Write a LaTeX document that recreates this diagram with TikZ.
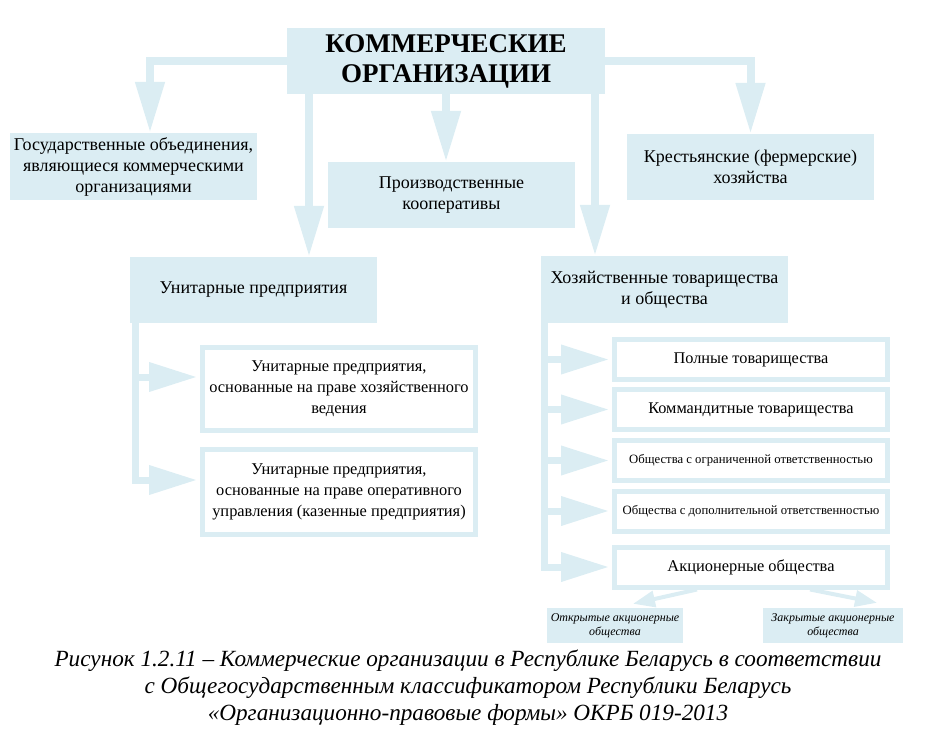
\documentclass[tikz,border=0pt]{standalone}
\usepackage{fontspec}
\setmainfont{Liberation Serif}
\usetikzlibrary{arrows.meta,positioning}
\definecolor{pale}{RGB}{219,237,243}
\tikzset{
  fillbox/.style={fill=pale, inner sep=0pt, align=center, minimum width=247pt, minimum height=66pt, font=\fontsize{18}{21}\selectfont},
  framebox/.style={fill=white, draw=pale, line width=5pt, inner sep=0pt, align=center, minimum width=273pt},
  bigarrow/.style={draw=pale, line width=8pt, -{Triangle[width=28pt,length=51pt]}},
  sidearrow/.style={draw=pale, line width=7pt, -{Triangle[width=28pt,length=48pt]}},
  smallarrow/.style={draw=pale, line width=4pt, -{Triangle[width=16pt,length=22pt]}}
}
\begin{document}
\begin{tikzpicture}[x=1pt,y=-1pt]
    \useasboundingbox (0,0) rectangle (936,735);
    \node [fillbox,minimum width=318pt,font=\fontsize{27}{30}\bfseries] (top) at (446,61) {КОММЕРЧЕСКИЕ\\ОРГАНИЗАЦИИ} ;
    \node [fillbox,minimum height=67pt] (gos) at (133.5,166.5) {Государственные объединения,\\являющиеся коммерческими\\организациями} ;
    \node [fillbox] (prod) at (451.5,195) {Производственные\\кооперативы} ;
    \node [fillbox] (krest) at (750.5,167) {Крестьянские (фермерские)\\хозяйства} ;
    \node [fillbox] (unit) at (253.5,290) {Унитарные предприятия} ;
    \node [fillbox,minimum height=67pt] (hoz) at (664.5,289.5) {Хозяйственные товарищества\\и общества} ;

    \node [framebox,minimum height=83pt,font=\fontsize{16.4}{21}\selectfont] (u1) at (339,389) {Унитарные предприятия,\\основанные на праве хозяйственного\\ведения} ;
    \node [framebox,minimum height=85pt,font=\fontsize{16.4}{21}\selectfont] (u2) at (339,492) {Унитарные предприятия,\\основанные на праве оперативного\\управления (казенные предприятия)} ;

    \node [framebox,minimum height=40pt,font=\fontsize{16.3}{18}\selectfont] (p1) at (751,359.5) {Полные товарищества} ;
    \node [framebox,minimum height=40pt,font=\fontsize{16.3}{18}\selectfont] (p2) at (751,409.5) {Коммандитные товарищества} ;
    \node [framebox,minimum height=40pt,font=\fontsize{12.7}{14}\selectfont] (p3) at (751,460.5) {Общества с ограниченной ответственностью} ;
    \node [framebox,minimum height=40pt,font=\fontsize{12.7}{14}\selectfont] (p4) at (751,511) {Общества с дополнительной ответственностью} ;
    \node [framebox,minimum height=40pt,font=\fontsize{16.4}{18}\selectfont] (p5) at (751,567) {Акционерные общества} ;

    \node [fillbox,minimum width=136pt,minimum height=35pt,font=\fontsize{12}{14}\itshape] (otk) at (615,625.5) {Открытые акционерные\\общества} ;
    \node [fillbox,minimum width=140pt,minimum height=35pt,font=\fontsize{12}{14}\itshape] (zak) at (833,625.5) {Закрытые акционерные\\общества} ;

    \node [align=center,font=\fontsize{23.2}{27}\itshape] (cap) at (468,688) {Рисунок 1.2.11 – Коммерческие организации в Республике Беларусь в соответствии\\с Общегосударственным классификатором Республики Беларусь\\«Организационно-правовые формы» ОКРБ 019-2013} ;

    \draw [bigarrow] (top.west) -| ([xshift=16.5pt]gos.north);
    \draw [bigarrow] (top.east) -| (krest.north);
    \draw [bigarrow] (top.south) -- (top.south |- prod.north);
    \draw [bigarrow] ([xshift=-137pt]top.south) -- ([xshift=-137pt]top.south |- unit.north);
    \draw [bigarrow] ([xshift=149pt]top.south) -- ([xshift=149pt]top.south |- hoz.north);

    \draw [sidearrow] ([xshift=6pt]unit.south west) |- ([xshift=-3pt,yshift=12pt]u1.west);
    \draw [sidearrow] ([xshift=6pt]unit.south west) |- ([xshift=-3pt,yshift=12pt]u2.west);

    \draw [sidearrow] ([xshift=4pt]hoz.south west) |- ([xshift=-3pt]p1.west);
    \draw [sidearrow] ([xshift=4pt]hoz.south west) |- ([xshift=-3pt]p2.west);
    \draw [sidearrow] ([xshift=4pt]hoz.south west) |- ([xshift=-3pt]p3.west);
    \draw [sidearrow] ([xshift=4pt]hoz.south west) |- ([xshift=-3pt]p4.west);
    \draw [sidearrow] ([xshift=4pt]hoz.south west) |- ([xshift=-3pt]p5.west);

    \draw [smallarrow] ([xshift=-54pt]p5.south) -- ([xshift=18pt,yshift=4pt]otk.north);
    \draw [smallarrow] ([xshift=59pt]p5.south) -- ([xshift=44pt,yshift=5pt]zak.north);
\end{tikzpicture}
\end{document}
